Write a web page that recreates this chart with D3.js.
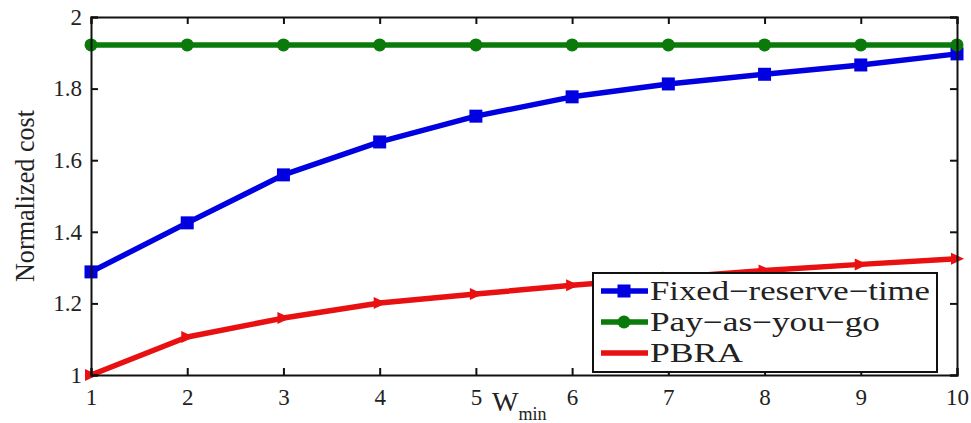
<!DOCTYPE html>
<html>
<head>
<meta charset="utf-8" />
<script src="https://d3js.org/d3.v7.min.js"></script>
<style>
  body { margin: 0; background: #fff; }
  svg text { font-family: "Liberation Serif", "Times New Roman", serif; fill: #222; }
</style>
</head>
<body>
<svg id="chart" width="971" height="423"></svg>
<script>
var wmin = [1, 2, 3, 4, 5, 6, 7, 8, 9, 10];
var fixedReserve = [1.288, 1.425, 1.559, 1.651, 1.723, 1.777, 1.813, 1.840, 1.866, 1.897];
var payAsYouGo = [1.922, 1.922, 1.922, 1.922, 1.922, 1.922, 1.922, 1.922, 1.922, 1.922];
var pbra = [1.0, 1.106, 1.159, 1.201, 1.226, 1.251, 1.272, 1.292, 1.309, 1.325];
var yTicks = [1, 1.2, 1.4, 1.6, 1.8, 2];
var yTickLabels = ["1", "1.2", "1.4", "1.6", "1.8", "2"];

var series = [
  { name: "Fixed\u2212reserve\u2212time", values: fixedReserve, color: "#0000e0", marker: "square", len: 280 },
  { name: "Pay\u2212as\u2212you\u2212go", values: payAsYouGo, color: "#0a7a0a", marker: "circle", len: 230 },
  { name: "PBRA", values: pbra, color: "#e81010", marker: "triangle", len: 93 }
];

var serif = "'Liberation Serif', 'Times New Roman', serif";
var mLeft = 91, mRight = 957, mTop = 17, mBottom = 375;
var svg = d3.select("#chart");

var x = d3.scaleLinear().domain([1, 10]).range([mLeft, mRight]);
var y = d3.scaleLinear().domain([1, 2]).range([mBottom, mTop]);

// lines
var line = d3.line()
  .x(function(d, i) { return x(wmin[i]); })
  .y(function(d) { return y(d); });

series.forEach(function(s) {
  svg.append("path")
    .attr("d", line(s.values))
    .attr("fill", "none")
    .attr("stroke", s.color)
    .attr("stroke-width", 5.5)
    .attr("stroke-linejoin", "round");
});

function drawMarker(g, type, cx, cy, color) {
  if (type == "square") {
    g.append("rect").attr("x", cx - 6.5).attr("y", cy - 6.5)
      .attr("width", 13).attr("height", 13).attr("fill", color);
  } else if (type == "circle") {
    g.append("circle").attr("cx", cx).attr("cy", cy).attr("r", 6.5).attr("fill", color);
  } else {
    g.append("path")
      .attr("d", "M" + (cx - 6) + "," + (cy - 6) + "L" + (cx + 7) + "," + cy + "L" + (cx - 6) + "," + (cy + 6) + "Z")
      .attr("fill", color);
  }
}

series.forEach(function(s) {
  var g = svg.append("g");
  s.values.forEach(function(v, i) {
    drawMarker(g, s.marker, x(wmin[i]), y(v), s.color);
  });
});

// axes box
var xAxis = d3.axisBottom(x).tickValues(wmin).tickSize(-7).tickPadding(10);
var yAxis = d3.axisLeft(y).tickValues(yTicks).tickSize(-7).tickPadding(9)
  .tickFormat(function(d, i) { return yTickLabels[i]; });

var gx = svg.append("g").attr("transform", "translate(0," + mBottom + ")").call(xAxis);
var gy = svg.append("g").attr("transform", "translate(" + mLeft + ",0)").call(yAxis);
var gxt = svg.append("g").attr("transform", "translate(0," + mTop + ")")
  .call(d3.axisTop(x).tickValues(wmin).tickSize(-7).tickFormat(""));
var gyr = svg.append("g").attr("transform", "translate(" + mRight + ",0)")
  .call(d3.axisRight(y).tickValues(yTicks).tickSize(-7).tickFormat(""));

[gx, gy, gxt, gyr].forEach(function(g) {
  g.attr("font-family", serif);
  g.select(".domain").attr("stroke", "#111").attr("stroke-width", 2);
  g.selectAll(".tick line").attr("stroke", "#111").attr("stroke-width", 2);
  g.selectAll(".tick text").style("font-family", serif).style("font-size", "23px").attr("fill", "#222");
});
gx.selectAll(".tick text").attr("dy", "0.85em");

// axis labels
svg.append("text")
  .attr("transform", "translate(34," + ((mTop + mBottom) / 2) + ") rotate(-90)")
  .attr("text-anchor", "middle")
  .style("font-family", serif)
  .style("font-size", "28px")
  .attr("textLength", 172)
  .attr("lengthAdjust", "spacingAndGlyphs")
  .text("Normalized cost");

var xl = svg.append("text").attr("x", 492).attr("y", 411)
  .style("font-family", serif).style("font-size", "28px");
xl.append("tspan").text("W");
xl.append("tspan").attr("dy", 9).style("font-size", "18px").text("min");

// legend
var lg = svg.append("g");
lg.append("rect")
  .attr("x", 593).attr("y", 273).attr("width", 344).attr("height", 99)
  .attr("fill", "#fff").attr("stroke", "#111").attr("stroke-width", 2);

series.forEach(function(s, i) {
  var ly = 291 + i * 31;
  lg.append("line")
    .attr("x1", 601).attr("x2", 648).attr("y1", ly).attr("y2", ly)
    .attr("stroke", s.color).attr("stroke-width", 5.5);
  if (s.marker != "triangle") drawMarker(lg, s.marker, 624, ly, s.color);
  lg.append("text")
    .attr("x", 650).attr("y", ly + 9)
    .style("font-family", serif)
    .style("font-size", "27px")
    .attr("textLength", s.len)
    .attr("lengthAdjust", "spacingAndGlyphs")
    .text(s.name);
});
</script>
</body>
</html>
